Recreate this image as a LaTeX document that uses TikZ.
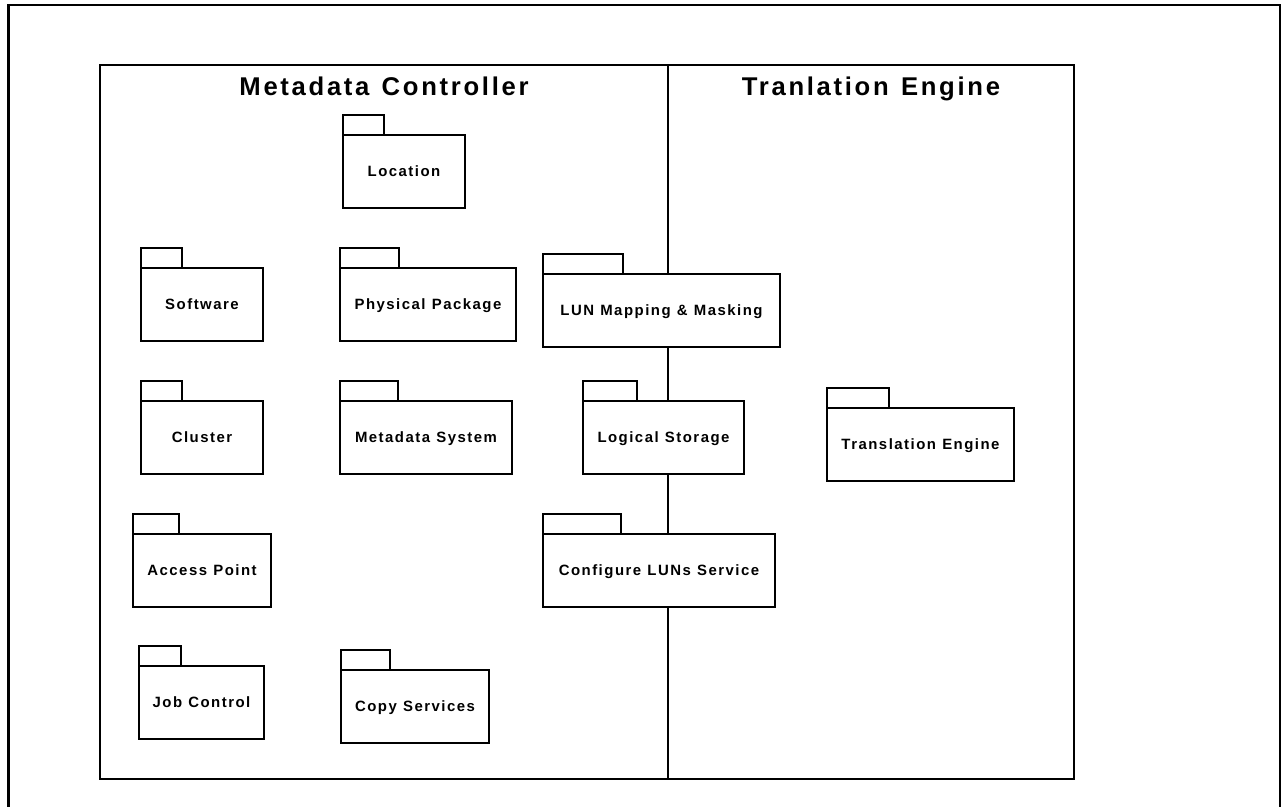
\documentclass[tikz,border=0pt]{standalone}
\usepackage{fontspec}
\setmainfont{Liberation Sans}
\newfontfamily\pkgfont{Liberation Sans}[LetterSpace=10, WordSpace=1.1]
\newfontfamily\headfont{Liberation Sans}[LetterSpace=10.5, WordSpace=1.25]

\begin{document}
\begin{tikzpicture}[
    x=0.02cm, y=-0.02cm,
    pkg/.style={draw, rectangle, fill=white, line width=0.75pt,
      minimum height=1.46cm, inner sep=0pt, outer sep=0pt,
      text height=6.1pt, text depth=0pt,
      font=\pkgfont\bfseries\fontsize{8.5}{10}\selectfont},
    tab/.style={draw, fill=white, line width=0.75pt},
    lane/.style={line width=0.85pt},
    head/.style={anchor=base, font=\headfont\bfseries\fontsize{14.6}{17}\selectfont}
]
\clip (0,0) rectangle (1281,806);

% outer frame
\draw[line width=1.4pt] (8.7,840) -- (8.7,5) -- (1279.8,5) -- (1279.8,840);

% swimlanes
\coordinate (laneNW) at (100,65);
\coordinate (laneSE) at (1074,779);
\coordinate (splitN) at (668,65);
\coordinate (splitS) at (668,779);
\draw[lane] (laneNW) rectangle (laneSE);
\draw[lane] (splitN) -- (splitS);

\node[head] (mctitle) at (384,95.5) {Metadata Controller};
\node[head] (tetitle) at (871,95.5) {Tranlation Engine};

% packages
\node[pkg, minimum width=2.44cm] (location) at (404,171.5) {Location};
\node[pkg, minimum width=2.44cm] (software) at (202,304.5) {Software};
\node[pkg, minimum width=3.52cm] (physpkg) at (428,304.5) {Physical Package};
\node[pkg, minimum width=4.74cm] (lunmap) at (661.5,310.5) {LUN Mapping \& Masking};
\node[pkg, minimum width=2.44cm] (cluster) at (202,437.5) {Cluster};
\node[pkg, minimum width=3.44cm] (metasys) at (426,437.5) {Metadata System};
\node[pkg, minimum width=3.22cm] (logstor) at (663.5,437.5) {Logical Storage};
\node[pkg, minimum width=3.74cm] (transeng) at (920.5,444.5) {Translation Engine};
\node[pkg, minimum width=2.76cm] (accesspt) at (202,570.5) {Access Point};
\node[pkg, minimum width=4.64cm] (confluns) at (659,570.5) {Configure LUNs Service};
\node[pkg, minimum width=2.50cm] (jobctl) at (201.5,702.5) {Job Control};
\node[pkg, minimum width=2.96cm] (copysvc) at (415,706.5) {Copy Services};

% folder tabs
\foreach \p/\w in {location/41, software/41, physpkg/59, lunmap/80,
    cluster/41, metasys/58, logstor/54, transeng/62,
    accesspt/46, confluns/78, jobctl/42, copysvc/49}
  \draw[tab] (\p.north west) rectangle ++(\w,-20);
\end{tikzpicture}
\end{document}
